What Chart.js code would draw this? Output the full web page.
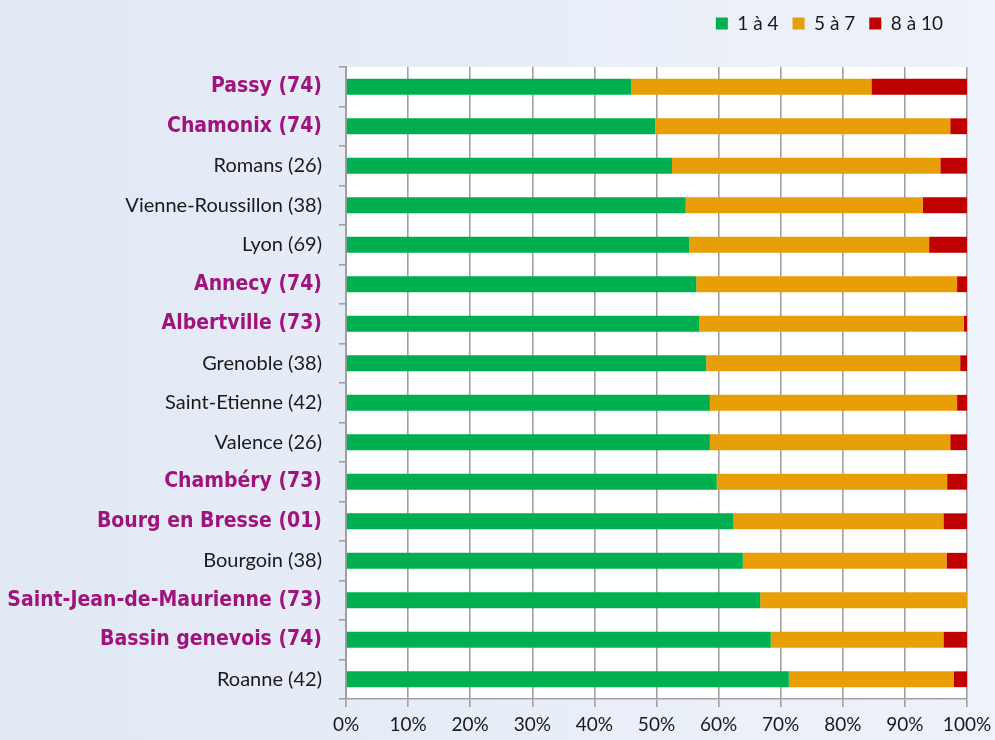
<!DOCTYPE html>
<html><head><meta charset="utf-8">
<script src="https://cdn.jsdelivr.net/npm/chart.js@4/dist/chart.umd.min.js"></script>
<style>html,body{margin:0;padding:0;background:#e3eaf6;}#wrap{width:995px;height:740px;}</style>
</head><body><div id="wrap"><canvas id="c" width="995" height="740"></canvas></div>
<script>
const categories = ["Passy (74)","Chamonix (74)","Romans (26)","Vienne-Roussillon (38)","Lyon (69)","Annecy (74)","Albertville (73)","Grenoble (38)","Saint-Etienne (42)","Valence (26)","Chambéry (73)","Bourg en Bresse (01)","Bourgoin (38)","Saint-Jean-de-Maurienne (73)","Bassin genevois (74)","Roanne (42)"];
const highlighted = [true,true,false,false,false,true,true,false,false,false,true,true,false,true,true,false];
const seriesNames = ["1 à 4","5 à 7","8 à 10"];
const s1a4 = [45.9,49.8,52.5,54.7,55.3,56.4,56.9,58.0,58.6,58.6,59.7,62.4,63.9,66.7,68.4,71.3];
const s5a7 = [38.7,47.5,43.2,38.2,38.6,42.0,42.6,40.9,39.8,38.7,37.1,33.8,32.8,33.3,27.8,26.6];
const s8a10 = [15.4,2.7,4.3,7.1,6.1,1.6,0.5,1.1,1.6,2.7,3.2,3.8,3.3,0.0,3.8,2.1];
const xTicks = [0,10,20,30,40,50,60,70,80,90,100];

const bgPlugin = {
  id:'bg',
  afterLayout(chart){
    if (chart.legend) { chart.legend.right -= 10; }
  },
  beforeDraw(chart){
    const {ctx, chartArea:a} = chart;
    ctx.save();
    const g = ctx.createLinearGradient(0,0,chart.width,0);
    g.addColorStop(0,'#e1e9f5'); g.addColorStop(1,'#eef2fa');
    ctx.fillStyle = g; ctx.fillRect(0,0,chart.width,chart.height);
    ctx.fillStyle = '#ffffff'; ctx.fillRect(a.left,a.top,a.right-a.left,a.bottom-a.top);
    ctx.restore();
  }
};

new Chart(document.getElementById('c'), {
  type:'bar',
  data:{
    labels: categories,
    datasets:[
      {label:seriesNames[0], data:s1a4, backgroundColor:'#00b050'},
      {label:seriesNames[1], data:s5a7, backgroundColor:'#e89e06'},
      {label:seriesNames[2], data:s8a10, backgroundColor:'#c00000'}
    ]
  },
  options:{
    indexAxis:'y',
    responsive:false,
    animation:false,
    devicePixelRatio:1,
    layout:{padding:{left:8,right:28,top:0,bottom:4}},
    datasets:{bar:{barPercentage:0.4,categoryPercentage:1.0}},
    plugins:{
      legend:{
        position:'top', align:'end',
        labels:{boxWidth:12, boxHeight:12, font:{family:'Lato', size:19}, color:'#1a1a1a', padding:14},
      },
      tooltip:{enabled:false}
    },
    scales:{
      x:{
        stacked:true, min:0, max:100,
        afterBuildTicks(s){ s.ticks = xTicks.map(v=>({value:v})); },
        afterFit(s){ s.height = 37; s.paddingRight = 0; s.paddingLeft = 0; },
        ticks:{callback:v=>v+'%', font:{family:'Lato', size:19}, color:'#1a1a1a', padding:6, maxRotation:0},
        grid:{color:'#a0a0a0', lineWidth:1.6, tickLength:8},
        border:{color:'#a0a0a0', width:1.6}
      },
      spacer:{
        type:'linear', position:'top', axis:'x', display:true,
        afterFit(s){ s.height = 24; },
        ticks:{display:false}, grid:{display:false}, border:{display:false}
      },
      y:{
        stacked:true,
        afterFit(s){ s.width = 338; },
        ticks:{
          color:c=>highlighted[c.index]?'#a0137c':'#1a1a1a',
          font:c=>highlighted[c.index]?{family:"'DejaVu Sans Condensed', Roboto", size:21, weight:'bold'}:{family:'Lato', size:20},
          padding:17
        },
        grid:{offset:true, drawOnChartArea:false, color:'#a0a0a0', lineWidth:1.6, tickLength:7},
        border:{color:'#a0a0a0', width:2}
      }
    }
  },
  plugins:[bgPlugin]
});
</script></body></html>
